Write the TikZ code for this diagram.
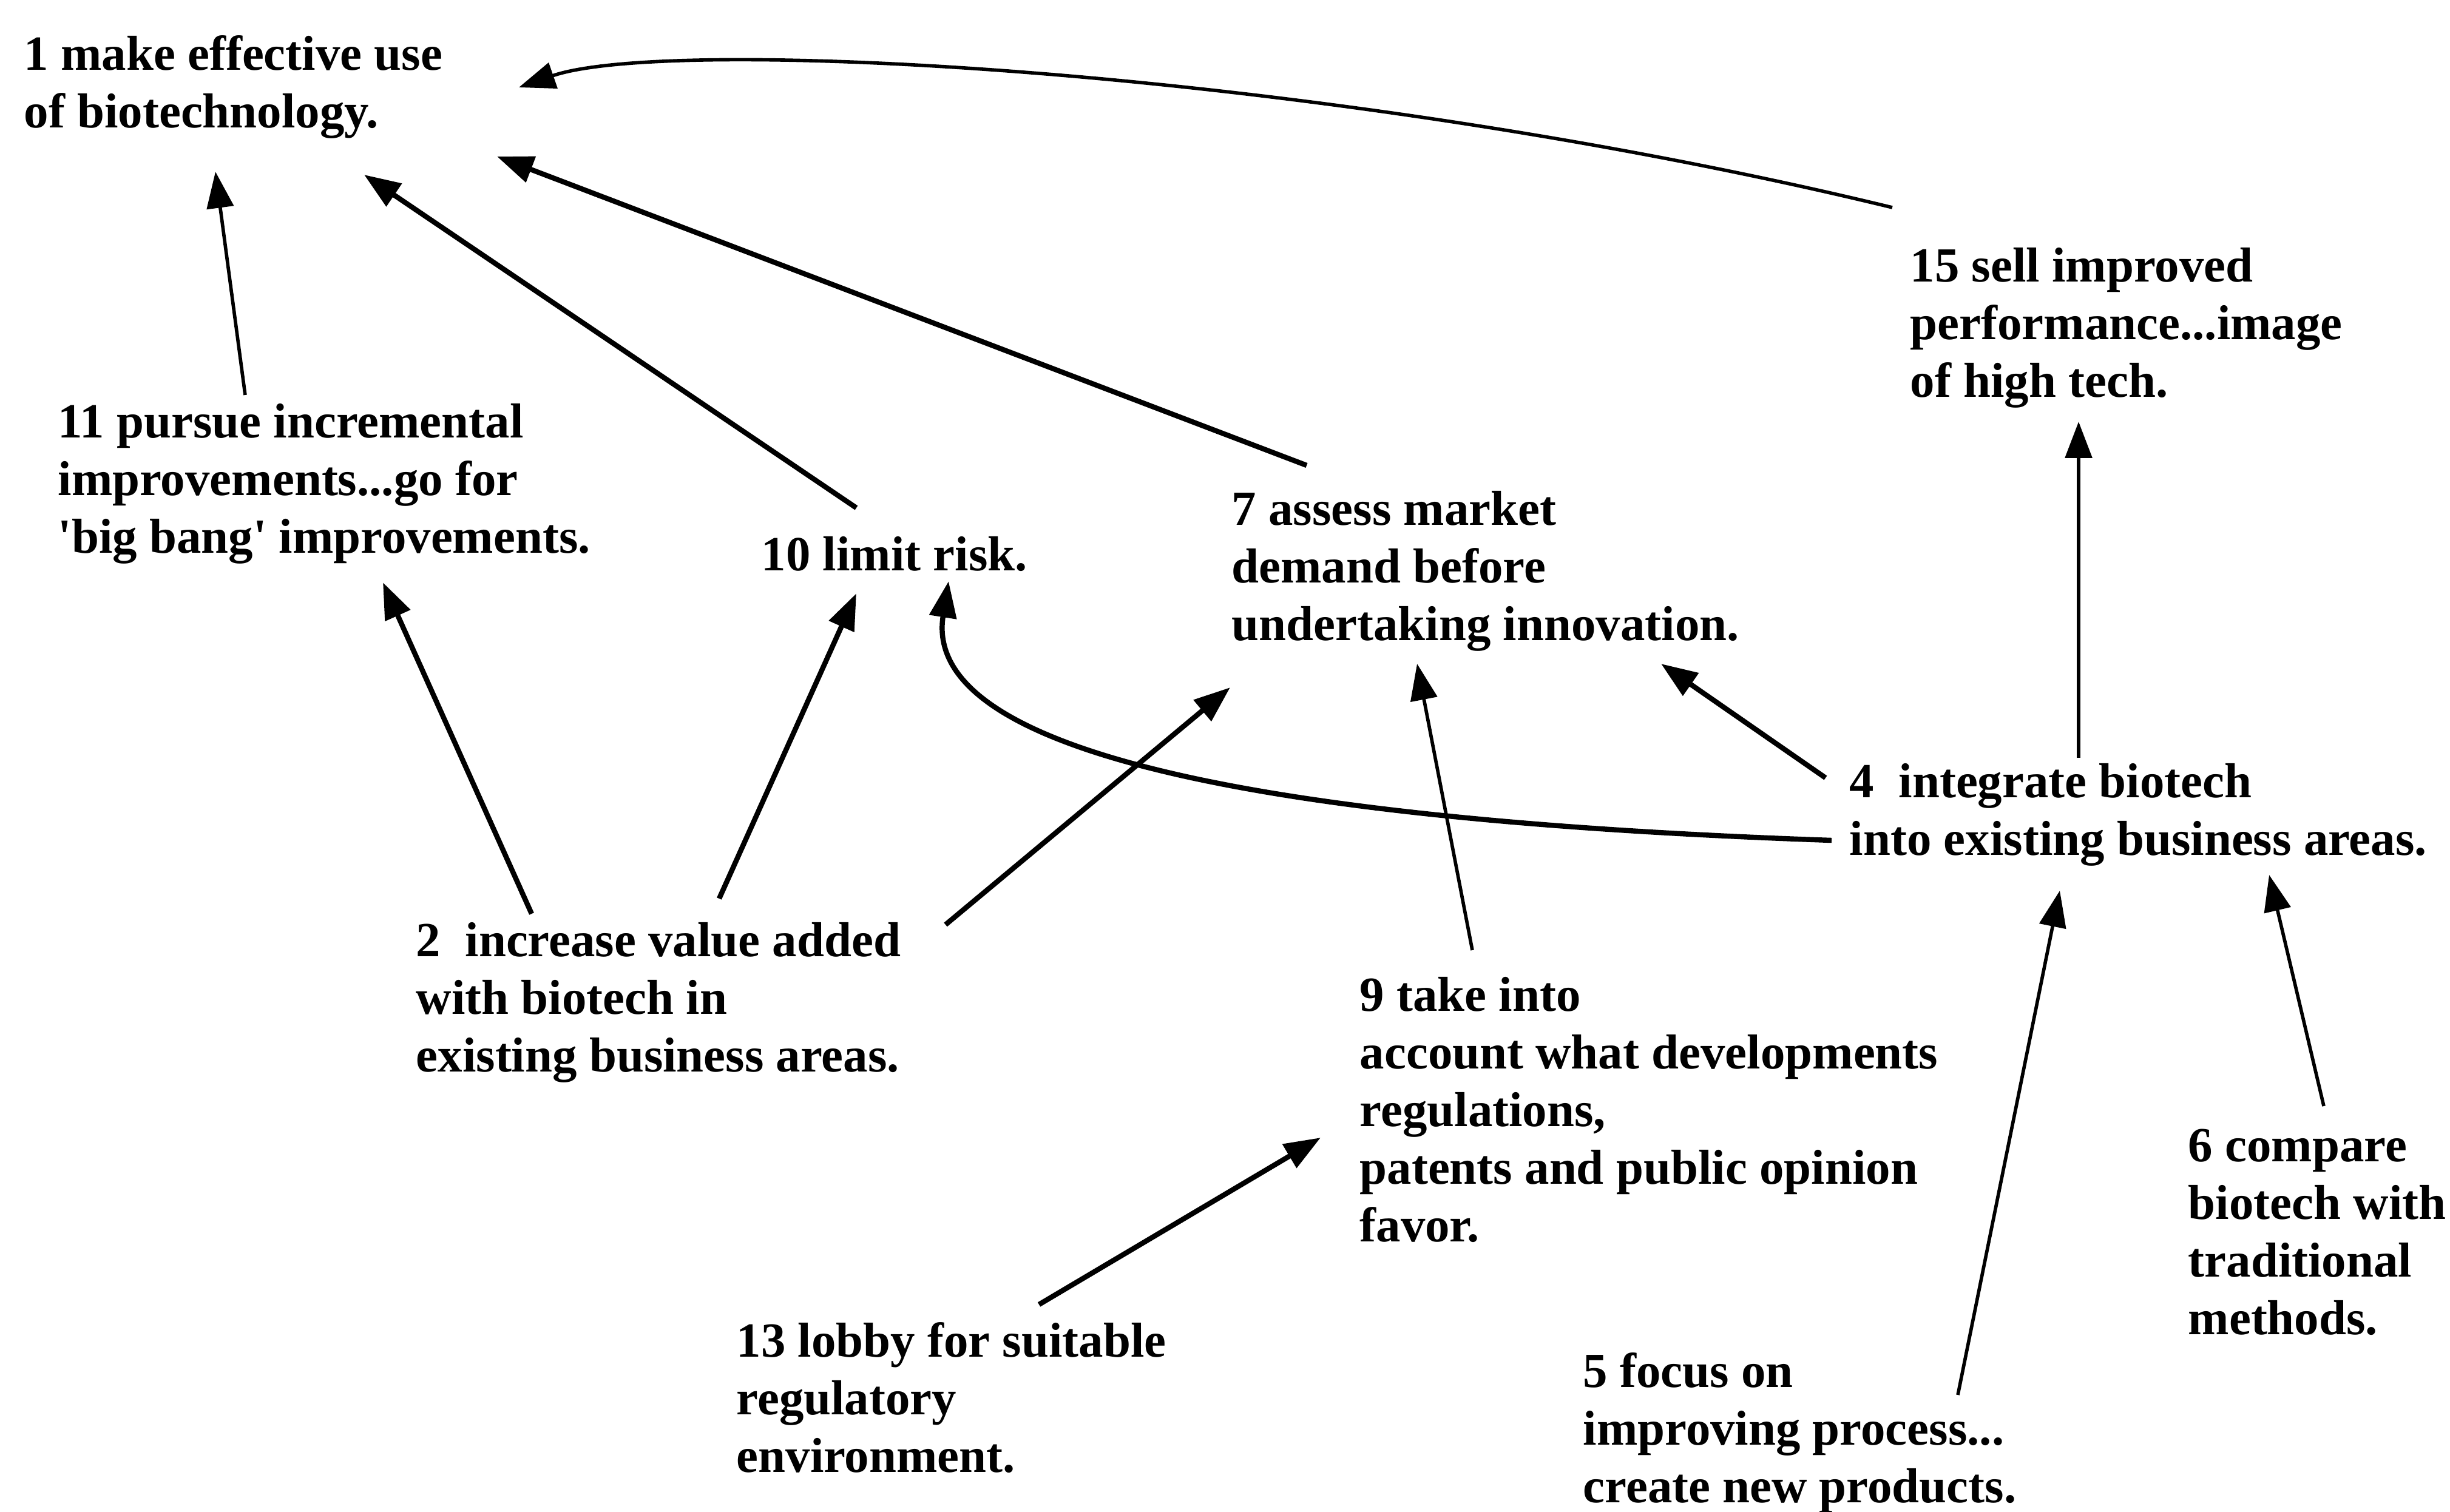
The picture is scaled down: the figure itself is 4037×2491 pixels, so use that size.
\documentclass[tikz,border=0pt]{standalone}
\usepackage{fontspec}
\setmainfont{Liberation Serif}
\usetikzlibrary{arrows.meta,calc}
\begin{document}
\begin{tikzpicture}[x=0.01cm,y=-0.01cm,
  goal/.style={anchor=north west,inner sep=0pt,align=left,
    font=\fontsize{23pt}{27pt}\selectfont\bfseries},
  link/.style={line width=2.4pt,-{Triangle[length=17pt,width=12.5pt]}},
  thinlink/.style={line width=1.6pt,-{Triangle[length=17pt,width=12.5pt]}}]
\useasboundingbox (0,0) rectangle (4037,2491);

% statements
\node[goal] (n1)  at (39,58)    {1 make effective use\\of biotechnology.};
\node[goal] (n11) at (95,665)   {11 pursue incremental\\improvements...go for\\\textquotesingle big bang\textquotesingle\ improvements.};
\node[goal] (n10) at (1254,884) {10 limit risk.};
\node[goal] (n7)  at (2029,809) {7 assess market\\demand before\\undertaking innovation.};
\node[goal] (n15) at (3147,408) {15 sell improved\\performance...image\\of high tech.};
\node[goal] (n4)  at (3047,1258){4\ \ integrate biotech\\into existing business areas.};
\node[goal] (n2)  at (685,1520) {2\ \ increase value added\\with biotech in\\existing business areas.};
\node[goal] (n9)  at (2240,1610){9 take into\\account what developments\\regulations,\\patents and public opinion\\favor.};
\node[goal] (n6)  at (3605,1860){6 compare\\biotech with\\traditional\\methods.};
\node[goal] (n13) at (1213,2179){13 lobby for suitable\\regulatory\\environment.};
\node[goal] (n5)  at (2608,2229){5 focus on\\improving process...\\create new products.};

% links towards statement 1
\draw[thinlink] ($(n11.north west)+(309,-14)$) -- ($(n1.north west)+(316,225)$);
\draw[link] ($(n10.north west)+(157,-47)$) -- ($(n1.north west)+(561,230)$);
\draw[link] ($(n7.north west)+(124,-42)$) -- ($(n1.north west)+(780,200)$);
\draw[thinlink] ($(n15.north west)+(-29,-66)$) .. controls (2189,116) and (1107,57) .. ($(n1.north west)+(816,86)$);

% links from statement 2
\draw[link] ($(n2.north west)+(191,-14)$) -- ($(n11.north west)+(536,295)$);
\draw[link] ($(n2.north west)+(500,-39)$) -- ($(n10.north west)+(157,94)$);
\draw[link] ($(n2.north west)+(873,4)$) -- ($(n7.north west)+(-2,324)$);

% links into statement 7
\draw[thinlink] ($(n9.north west)+(186,-44)$) -- ($(n7.north west)+(306,285)$);
\draw[link] ($(n4.north west)+(-39,24)$) -- ($(n7.north west)+(708,285)$);

% links from statement 4
\draw[link] ($(n4.north west)+(-29,127)$) .. controls (2060,1352) and (1519,1236) .. ($(n10.north west)+(309,74)$);
\draw[thinlink] ($(n4.north west)+(378,-9)$) -- ($(n15.north west)+(278,287)$);

% links into statement 4
\draw[thinlink] ($(n5.north west)+(618,70)$) -- ($(n4.north west)+(347,210)$);
\draw[thinlink] ($(n6.north west)+(224,-37)$) -- ($(n4.north west)+(692,184)$);

% link into statement 9
\draw[link] ($(n13.north west)+(499,-29)$) -- ($(n9.north west)+(-64,265)$);
\end{tikzpicture}
\end{document}
